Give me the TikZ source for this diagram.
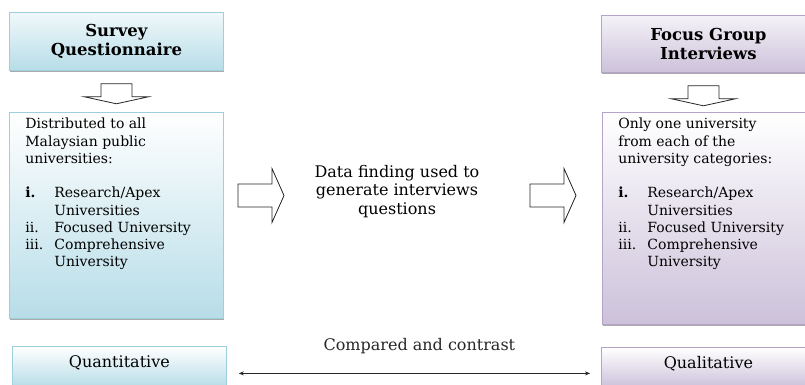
\documentclass[tikz,border=0pt]{standalone}
\usepackage{fontspec}
\setmainfont{DejaVu Serif}
\usetikzlibrary{positioning,shadows,calc,arrows.meta}

\definecolor{surveyblue}{HTML}{B7DDE8}
\definecolor{surveyline}{HTML}{9ECFDD}
\definecolor{focuspurple}{HTML}{CCC1DA}
\definecolor{focusline}{HTML}{B4A4C8}

\tikzset{
  boxshadow/.style={drop shadow={shadow xshift=0.6pt,shadow yshift=-1.8pt,opacity=.6,fill=black!55}},
  surveybox/.style={draw=surveyline, line width=0.8pt, top color=white, bottom color=surveyblue,
    boxshadow, minimum width=214pt, anchor=north west},
  focusbox/.style={draw=focusline, line width=0.8pt, top color=white, bottom color=focuspurple,
    boxshadow, minimum width=214pt, anchor=north west},
  titletext/.style={font=\fontsize{16.5}{19}\selectfont\bfseries, align=center, minimum height=58pt},
  bodytext/.style={font=\fontsize{14}{17.25}\selectfont, inner xsep=16pt, inner ysep=4.5pt},
  endtext/.style={font=\fontsize{16}{19}\selectfont, minimum height=40pt, text height=12pt, text depth=9pt},
  blockarrow/.style={draw=black!85, fill=white, line width=0.8pt},
  downarr/.pic={\draw[blockarrow] (-15.5,0) -- (-15.5,13) -- (-32,13) -- (0,20) -- (32,13) -- (15.5,13) -- (15.5,0) -- cycle;},
  rightarr/.pic={\draw[blockarrow] (0,-11.5) -- (34,-11.5) -- (34,-27) -- (46,0) -- (34,27) -- (34,11.5) -- (0,11.5) -- cycle;}
}
\newcommand{\itm}[1]{\makebox[29pt][l]{#1}}

\begin{document}
\begin{tikzpicture}[x=1pt,y=-1pt]
\useasboundingbox (0,0) rectangle (805,385);
\clip (0,0) rectangle (805,385);

% the two methods
\node[surveybox, titletext, top color=surveyblue!20] (survey) at (9,12) {Survey\\Questionnaire};
\node[focusbox, titletext, top color=focuspurple!20, minimum height=57pt] (focus) at (601,15) {Focus Group\\Interviews};

% who took part
\node[surveybox, bodytext] (dist) at (9,112) {\begin{minipage}[t][197pt][t]{182pt}\raggedright
\strut Distributed to all\\
Malaysian public\\
universities:\\[17.25pt]
\itm{\textbf{i.}}Research/Apex\\
\itm{}Universities\\
\itm{ii.}Focused University\\
\itm{iii.}Comprehensive\\
\itm{}University
\end{minipage}};
\node[focusbox, bodytext] (only) at (602,112) {\begin{minipage}[t][203pt][t]{182pt}\raggedright
\strut Only one university\\
from each of the\\
university categories:\\[17.25pt]
\itm{\textbf{i.}}Research/Apex\\
\itm{}Universities\\
\itm{ii.}Focused University\\
\itm{iii.}Comprehensive\\
\itm{}University
\end{minipage}};

\node[font=\fontsize{16}{18.5}\selectfont, align=center] (find) at (397,191.5) {Data finding used to\\generate interviews\\questions};

% block arrows
\pic at ([yshift=-13pt]survey.south) {downarr};
\pic at ([xshift=-5pt,yshift=-13pt]focus.south) {downarr};
\pic at ($(find)+(-159,4)$) {rightarr};
\pic at ($(find)+(133,4)$) {rightarr};

% results
\node[surveybox, endtext] (quant) at (12,346) {Quantitative};
\node[focusbox, endtext] (qual) at (601,347) {Qualitative};
\draw[{Stealth[length=5pt,width=4pt]}-{Stealth[length=5pt,width=4pt]}, black!85, line width=0.8pt]
  ([xshift=12pt,yshift=-7pt]quant.east) -- node[midway, yshift=27pt, xshift=5pt, font=\fontsize{16}{19}\selectfont] (cmp) {Compared and contrast} ([xshift=-11pt,yshift=-6pt]qual.west);
\end{tikzpicture}
\end{document}
